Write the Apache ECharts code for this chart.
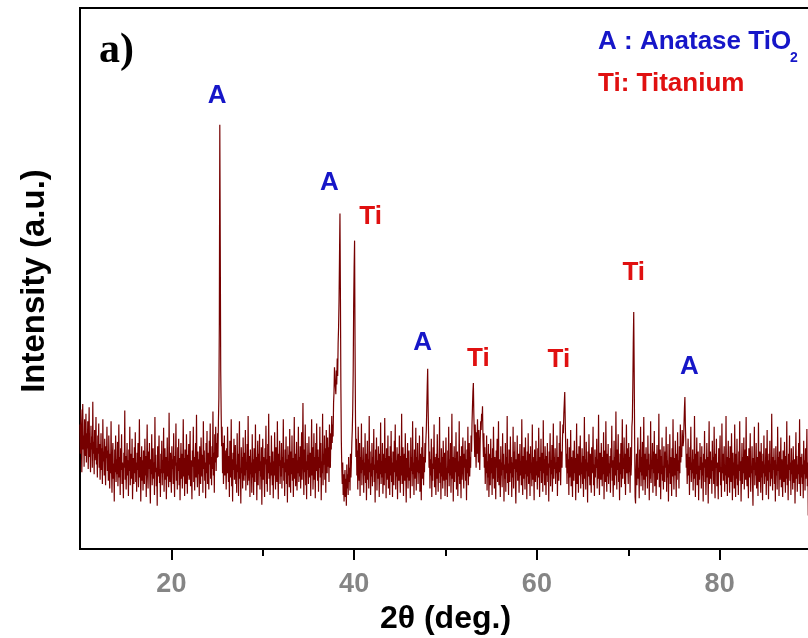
<!DOCTYPE html>
<html>
<head>
<meta charset="utf-8">
<script src="https://cdn.jsdelivr.net/npm/echarts@6/dist/echarts.min.js"></script>
<style>
  html, body { margin: 0; padding: 0; background: #fff; }
  #chart { width: 808px; height: 638px; }
</style>
</head>
<body>
<div id="chart"></div>
<script>
// XRD scan: 2θ from 10° to 90° in 0.05° steps (one row per degree)
const twoThetaStart = 10;
const twoThetaStep = 0.05;
const intensity = [
  230, 176, 258, 198, 142, 226, 268, 184, 210, 152, 240, 196, 172, 250, 160, 214, 186, 236, 148, 204,
  262, 170, 196, 142, 228, 184, 208, 150, 272, 176, 198, 138, 220, 164, 190, 244, 156, 186, 132, 210,
  176, 232, 150, 194, 128, 170, 214, 146, 186, 120, 240, 162, 180, 136, 204, 154, 118, 190, 168, 226,
  144, 182, 126, 210, 160, 112, 176, 140, 236, 150, 104, 172, 196, 130, 158, 88, 184, 142, 210, 124,
  166, 138, 198, 116, 154, 230, 132, 170, 100, 186, 146, 212, 120, 160, 138, 94, 178, 150, 256, 128,
  172, 110, 150, 196, 136, 164, 98, 184, 144, 226, 118, 158, 176, 130, 204, 92, 150, 168, 120, 188,
  140, 216, 124, 160, 106, 178, 146, 196, 114, 154, 240, 132, 170, 88, 150, 190, 126, 164, 108, 182,
  150, 120, 204, 136, 172, 96, 158, 230, 140, 112, 180, 148, 196, 124, 84, 166, 138, 212, 118, 156,
  186, 130, 160, 100, 244, 142, 174, 116, 150, 80, 190, 134, 162, 210, 122, 148, 96, 176, 140, 200,
  118, 164, 140, 224, 106, 156, 186, 128, 170, 92, 146, 206, 134, 162, 114, 252, 150, 124, 178, 136,
  104, 190, 148, 166, 120, 214, 138, 96, 172, 154, 232, 126, 160, 110, 188, 144, 204, 118, 168, 90,
  156, 196, 130, 176, 112, 150, 240, 134, 168, 98, 184, 146, 120, 212, 158, 102, 174, 136, 194, 128,
  150, 218, 116, 164, 140, 92, 182, 152, 226, 124, 170, 108, 158, 196, 132, 248, 144, 114, 180, 138,
  166, 98, 190, 146, 120, 206, 158, 134, 174, 104, 236, 148, 182, 126, 160, 94, 196, 140, 218, 120,
  178, 142, 110, 200, 156, 232, 130, 170, 118, 190, 148, 254, 136, 178, 104, 212, 160, 226, 144, 196,
  168, 214, 170, 236, 280, 420, 784, 560, 330, 250, 190, 226, 140, 196, 120, 170, 210, 136, 182, 150,
  110, 186, 140, 226, 158, 124, 172, 96, 200, 150, 132, 240, 116, 166, 88, 178, 146, 204, 128, 160,
  192, 120, 156, 104, 214, 142, 176, 98, 166, 236, 130, 150, 84, 188, 140, 170, 112, 206, 154, 126,
  178, 136, 220, 108, 160, 146, 194, 118, 246, 150, 126, 172, 96, 184, 138, 160, 104, 212, 132, 166,
  100, 186, 150, 124, 230, 140, 170, 90, 158, 200, 118, 176, 144, 212, 110, 162, 134, 188, 82, 154,
  204, 128, 170, 144, 96, 186, 156, 228, 120, 166, 106, 194, 140, 250, 130, 172, 100, 160, 136, 210,
  146, 118, 180, 94, 162, 136, 216, 150, 110, 188, 168, 124, 236, 144, 92, 176, 154, 200, 120, 164,
  134, 196, 112, 170, 150, 240, 126, 160, 98, 184, 142, 208, 120, 166, 86, 190, 136, 174, 114, 222,
  152, 104, 180, 138, 210, 126, 168, 96, 156, 244, 130, 176, 116, 150, 198, 108, 164, 140, 226, 124,
  170, 134, 190, 112, 158, 216, 128, 176, 270, 150, 100, 184, 142, 230, 118, 162, 92, 196, 146, 174,
  120, 208, 156, 132, 178, 98, 166, 240, 136, 188, 110, 152, 214, 128, 170, 94, 196, 144, 232, 160,
  126, 184, 106, 170, 150, 226, 132, 196, 90, 162, 140, 250, 118, 176, 156, 210, 128, 186, 104, 220,
  168, 140, 206, 152, 188, 124, 230, 170, 150, 214, 184, 246, 196, 230, 208, 270, 290, 336, 310, 300,
  286, 330, 304, 352, 320, 380, 410, 460, 540, 620, 470, 300, 200, 150, 120, 160, 100, 138, 88, 126,
  146, 96, 130, 80, 156, 112, 138, 100, 170, 124, 150, 108, 176, 132, 160, 196, 220, 260, 330, 450,
  520, 570, 380, 240, 170, 204, 136, 182, 110, 226, 152, 126, 196, 98, 170, 140, 232, 118, 164, 146,
  188, 104, 160, 136, 214, 122, 176, 90, 150, 200, 128, 166, 112, 246, 142, 180, 100, 158, 134, 196,
  116, 170, 146, 222, 124, 156, 86, 184, 140, 206, 108, 164, 130, 190, 152, 96, 176, 138, 234, 120,
  162, 132, 196, 102, 150, 176, 118, 242, 140, 168, 94, 186, 128, 156, 210, 112, 172, 146, 100, 190,
  136, 218, 124, 160, 96, 180, 150, 118, 200, 142, 230, 110, 164, 134, 188, 92, 156, 176, 126, 210,
  148, 104, 172, 136, 250, 120, 160, 188, 98, 150, 176, 126, 214, 140, 86, 168, 132, 196, 112, 158,
  182, 126, 150, 94, 206, 144, 170, 116, 236, 138, 160, 100, 184, 130, 152, 224, 108, 170, 142, 196,
  120, 164, 140, 210, 106, 176, 148, 90, 188, 130, 226, 156, 118, 170, 142, 196, 160, 200, 220, 260,
  300, 333, 260, 210, 150, 180, 112, 166, 136, 204, 96, 158, 126, 188, 148, 230, 114, 170, 138, 100,
  176, 130, 212, 154, 106, 168, 140, 244, 122, 160, 92, 186, 134, 170, 112, 200, 150, 126, 178, 98,
  160, 206, 128, 150, 96, 182, 140, 226, 116, 166, 136, 196, 104, 158, 250, 130, 170, 88, 152, 190,
  124, 168, 142, 216, 110, 154, 180, 98, 162, 134, 236, 120, 172, 146, 94, 190, 128, 160, 206, 140,
  112, 176, 150, 200, 126, 166, 90, 184, 140, 226, 118, 158, 196, 134, 170, 150, 210, 180, 230, 262,
  290, 307, 250, 210, 170, 230, 190, 150, 216, 176, 240, 200, 160, 220, 184, 146, 200, 236, 220, 250,
  236, 264, 206, 170, 214, 150, 188, 120, 176, 140, 210, 108, 162, 132, 194, 96, 150, 176, 118, 204,
  140, 168, 100, 186, 130, 226, 154, 112, 170, 138, 92, 182, 150, 204, 124, 160, 236, 118, 166, 142,
  96, 190, 136, 160, 114, 214, 146, 176, 88, 156, 130, 196, 106, 170, 140, 246, 122, 158, 100, 184,
  150, 124, 208, 140, 170, 96, 160, 132, 226, 112, 180, 148, 198, 120, 84, 166, 142, 210, 126, 160,
  176, 104, 150, 194, 136, 162, 118, 240, 146, 100, 172, 130, 188, 154, 110, 206, 138, 164, 92, 180,
  134, 214, 120, 156, 176, 98, 190, 140, 160, 116, 230, 128, 170, 146, 90, 184, 150, 124, 200, 136,
  162, 110, 186, 132, 224, 150, 96, 170, 144, 204, 122, 160, 178, 106, 238, 140, 166, 118, 190, 146,
  100, 172, 136, 196, 124, 158, 88, 180, 150, 214, 116, 164, 138, 192, 106, 154, 232, 130, 170, 148,
  186, 120, 160, 140, 210, 98, 170, 152, 126, 196, 142, 236, 118, 166, 180, 150, 200, 230, 214, 250,
  270, 290, 240, 196, 150, 176, 120, 204, 140, 166, 100, 188, 132, 158, 220, 116, 170, 144, 96, 182,
  150, 126, 200, 140, 168, 90, 156, 232, 120, 176, 146, 104, 190, 136, 164, 210, 112, 160, 138, 186,
  120, 172, 96, 150, 244, 130, 166, 110, 198, 144, 160, 86, 180, 134, 212, 152, 118, 176, 140, 104,
  188, 140, 162, 226, 118, 156, 98, 184, 132, 170, 150, 204, 112, 166, 130, 248, 146, 100, 178, 154,
  128, 196, 150, 116, 170, 138, 216, 92, 160, 182, 124, 236, 148, 106, 176, 134, 194, 120, 158, 140,
  172, 104, 186, 150, 228, 126, 164, 96, 142, 200, 118, 170, 136, 254, 150, 110, 184, 146, 212, 124,
  160, 90, 176, 138, 196, 114, 150, 240, 130, 168, 148, 206, 120, 176, 100, 158, 230, 140, 186, 150,
  120, 196, 142, 170, 104, 188, 136, 160, 226, 240, 300, 380, 438, 330, 200, 96, 84, 140, 176, 118,
  160, 206, 130, 150, 94, 184, 142, 226, 116, 170, 136, 198, 108, 160, 244, 128, 176, 100, 150, 188,
  134, 166, 112, 210, 146, 176, 90, 156, 130, 236, 122, 164, 148, 196, 104, 180, 140, 218, 116, 158,
  176, 98, 150, 192, 128, 166, 140, 250, 114, 160, 184, 92, 172, 138, 206, 126, 154, 110, 190, 146,
  124, 180, 150, 226, 106, 164, 132, 194, 88, 156, 140, 212, 120, 170, 146, 98, 186, 134, 240, 150,
  110, 168, 136, 200, 152, 96, 176, 128, 216, 144, 164, 112, 190, 140, 230, 160, 186, 170, 220, 200,
  190, 200, 230, 260, 281, 230, 200, 150, 176, 120, 162, 204, 136, 170, 100, 188, 146, 226, 124, 160,
  140, 184, 108, 166, 130, 246, 150, 96, 176, 138, 206, 118, 160, 180, 90, 154, 128, 196, 146, 170,
  112, 190, 136, 160, 88, 176, 150, 218, 124, 166, 100, 146, 196, 132, 170, 84, 158, 236, 120, 150,
  180, 130, 164, 102, 200, 144, 170, 120, 226, 136, 94, 176, 150, 204, 116, 160, 138, 92, 186, 142,
  164, 210, 118, 150, 96, 232, 140, 176, 126, 160, 190, 106, 150, 136, 246, 120, 170, 98, 156, 200,
  132, 168, 104, 190, 146, 124, 214, 150, 90, 178, 136, 160, 112, 230, 142, 96, 176, 130, 204, 118,
  156, 100, 180, 144, 236, 126, 162, 88, 150, 196, 120, 170, 140, 206, 110, 152, 184, 128, 244, 140,
  116, 172, 150, 94, 186, 132, 160, 214, 106, 154, 140, 190, 124, 80, 168, 146, 226, 118, 160, 136,
  196, 112, 150, 170, 98, 234, 140, 124, 180, 150, 104, 196, 132, 162, 90, 176, 140, 210, 120, 156,
  134, 186, 100, 150, 220, 126, 164, 92, 176, 142, 200, 116, 156, 130, 250, 140, 108, 170, 146, 186,
  120, 164, 88, 190, 136, 156, 110, 226, 144, 170, 98, 180, 128, 150, 206, 114, 166, 134, 96, 182,
  150, 124, 198, 140, 104, 172, 130, 236, 118, 156, 90, 176, 146, 210, 126, 160, 100, 186, 138, 164,
  110, 190, 144, 122, 166, 84, 150, 216, 130, 172, 106, 156, 138, 196, 120, 240, 146, 98, 170, 132,
  176, 120, 156, 94, 200, 138, 164, 108, 186, 130, 150, 222, 116, 160, 62, 140, 178, 104, 154, 126,
  140
];

// Phase labels above the indexed reflections
const phaseLabelText = ['A', 'A', 'Ti', 'A', 'Ti', 'Ti', 'Ti', 'A'];
const phaseLabelX = [25.0, 37.3, 41.8, 47.5, 53.6, 62.4, 70.6, 76.7];
const phaseLabelY = [837, 677, 614, 381, 351, 349, 510, 336];

const majorTicks = [20, 40, 60, 80];
const minorTicks = [30, 50, 70];

const anataseColor = '#1616c8';
const titaniumColor = '#e01010';
const traceColor = '#760000';

const scan = intensity.map((v, i) => [+(twoThetaStart + i * twoThetaStep).toFixed(2), v]);
const labelPoints = phaseLabelText.map((t, i) => ({
  value: [phaseLabelX[i], phaseLabelY[i]],
  label: { formatter: t, color: t === 'A' ? anataseColor : titaniumColor }
}));

const chart = echarts.init(document.getElementById('chart'), null, { renderer: 'canvas' });
const sans = '"Liberation Sans", Arial, sans-serif';

chart.setOption({
  animation: false,
  backgroundColor: '#ffffff',
  grid: {
    left: 80, top: 8, width: 731, height: 541,
    outerBoundsMode: 'none', containLabel: false,
    show: true, borderColor: '#000', borderWidth: 2, backgroundColor: 'transparent'
  },
  xAxis: [
    {
      type: 'value', min: 10, max: 90, interval: 10,
      name: '2θ (deg.)', nameLocation: 'middle', nameGap: 54,
      nameTextStyle: { fontFamily: sans, fontWeight: 'bold', fontSize: 32, color: '#000' },
      axisLine: { show: true, lineStyle: { color: '#000', width: 2 } },
      axisTick: { show: true, customValues: majorTicks, length: 11, lineStyle: { color: '#000', width: 2 } },
      axisLabel: { show: true, customValues: majorTicks, margin: 22, fontFamily: sans, fontWeight: 'bold', fontSize: 27, color: '#858585' },
      splitLine: { show: false }
    },
    {
      type: 'value', min: 10, max: 90, interval: 10, position: 'bottom',
      axisLine: { show: false },
      axisTick: { show: true, customValues: minorTicks, length: 7, lineStyle: { color: '#000', width: 2 } },
      axisLabel: { show: false },
      splitLine: { show: false }
    }
  ],
  yAxis: {
    type: 'value', min: 0, max: 1000,
    axisLine: { show: true, lineStyle: { color: '#000', width: 2 } },
    axisTick: { show: false },
    axisLabel: { show: false },
    splitLine: { show: false }
  },
  graphic: [
    { type: 'text', x: 35, y: 281, rotation: Math.PI / 2,
      style: { text: 'Intensity (a.u.)', font: 'bold 33px ' + sans, fill: '#000', align: 'center', verticalAlign: 'middle' } },
    { type: 'text', left: 99, top: 30, style: { text: 'a)', font: 'bold 42px "Liberation Serif", "Times New Roman", serif', fill: '#000' } },
    { type: 'text', left: 598, top: 29, style: { text: 'A : Anatase TiO', font: 'bold 26px ' + sans, fill: anataseColor } },
    { type: 'text', left: 790, top: 51, style: { text: '2', font: 'bold 14px ' + sans, fill: anataseColor } },
    { type: 'text', left: 598, top: 71, style: { text: 'Ti: Titanium', font: 'bold 26px ' + sans, fill: titaniumColor } }
  ],
  series: [
    {
      type: 'line', xAxisIndex: 0, yAxisIndex: 0,
      data: scan, showSymbol: false, symbol: 'none',
      lineStyle: { color: traceColor, width: 1.2 },
      emphasis: { disabled: true }
    },
    {
      type: 'scatter', xAxisIndex: 0, yAxisIndex: 0,
      data: labelPoints, symbolSize: 0,
      label: { show: true, position: 'inside', fontFamily: sans, fontWeight: 'bold', fontSize: 26, textBorderWidth: 0, opacity: 1 },
      emphasis: { disabled: true }
    }
  ]
});
</script>
</body>
</html>
